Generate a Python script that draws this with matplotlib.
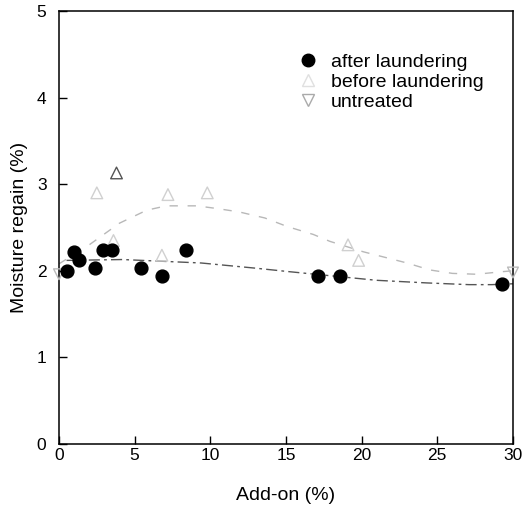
import matplotlib
matplotlib.use("Agg")
import matplotlib.pyplot as plt
from matplotlib.lines import Line2D

plt.rcParams['font.family'] = ['Liberation Sans', 'DejaVu Sans']

# after laundering (filled circles)
after_x = [0.5, 1.0, 1.3, 2.4, 2.9, 3.5, 5.4, 6.8, 8.4, 17.1, 18.6, 29.3]
after_y = [2.00, 2.22, 2.12, 2.03, 2.24, 2.24, 2.03, 1.94, 2.24, 1.94, 1.94, 1.85]

# before laundering (open triangles, mostly faded in the scan)
before_x = [2.5, 3.8, 3.6, 6.8, 7.2, 9.8, 19.1, 19.8]
before_y = [2.90, 3.13, 2.35, 2.18, 2.88, 2.90, 2.30, 2.12]

# untreated (open down triangles)
untreated_x = [0.0, 30.0]
untreated_y = [1.96, 1.98]

# fitted curve, before laundering (dashed)
fit_before_x = [0.0, 2.0, 4.0, 5.8, 7.1, 9.1, 10.4, 11.9, 13.6, 15.1, 16.8, 17.9,
                20.1, 23.0, 24.5, 26.0, 27.6, 29.3, 30.0]
fit_before_y = [2.08, 2.30, 2.55, 2.70, 2.75, 2.75, 2.72, 2.68, 2.61, 2.51, 2.42, 2.34,
                2.22, 2.09, 2.01, 1.97, 1.96, 1.99, 2.00]

# fitted curve, after laundering (dash-dot)
fit_after_x = [0.5, 4.2, 9.4, 13.0, 15.2, 21.0, 24.3, 27.1, 28.6, 30.0]
fit_after_y = [2.12, 2.13, 2.09, 2.03, 1.99, 1.89, 1.86, 1.84, 1.84, 1.85]

fig = plt.figure(figsize=(5.23, 5.07), dpi=100)
ax = fig.add_axes([0.1128, 0.1243, 0.868, 0.854])

ax.plot(fit_before_x, fit_before_y, linestyle=(0, (6, 7)), color='#b8b8b8', lw=1.0)
ax.plot(fit_after_x, fit_after_y, linestyle=(0, (8, 3, 2, 3)), color='#555555', lw=1.0)

before_edges = ['#d0d0d0', '#555555', '#d0d0d0', '#d0d0d0', '#d0d0d0', '#d0d0d0', '#d0d0d0', '#d0d0d0']
ax.scatter(before_x, before_y, marker='^', s=70, facecolors='none',
           edgecolors=before_edges, linewidths=1.0, zorder=3)
ax.scatter(untreated_x, untreated_y, marker='v', s=60, facecolors='none',
           edgecolors='#bbbbbb', linewidths=1.0, zorder=3, clip_on=False)
ax.scatter(after_x, after_y, marker='o', s=85, color='black', zorder=4)

ax.set_xlim(0, 30)
ax.set_ylim(0, 5)
ax.set_xticks([0, 5, 10, 15, 20, 25, 30])
ax.set_yticks([0, 1, 2, 3, 4, 5])
ax.tick_params(direction='in', length=6, width=1.0, labelsize=12.5,
               top=False, right=False)
ax.tick_params(axis='y', pad=9)
ax.tick_params(axis='x', pad=3)
for s in ax.spines.values():
    s.set_linewidth(1.1)

ax.set_xlabel('Add-on (%)', fontsize=14, labelpad=17)
ax.set_ylabel('Moisture regain (%)', fontsize=14, labelpad=6)

handles = [
    Line2D([], [], marker='o', color='black', linestyle='none', markersize=9),
    Line2D([], [], marker='^', markerfacecolor='none', markeredgecolor='#e0e0e0',
           linestyle='none', markersize=8),
    Line2D([], [], marker='v', markerfacecolor='none', markeredgecolor='#aaaaaa',
           linestyle='none', markersize=8),
]
labels = ['after laundering', 'before laundering', 'untreated']
ax.legend(handles, labels, loc='upper left', bbox_to_anchor=(0.505, 0.92),
          frameon=False, fontsize=14, handletextpad=0.6, labelspacing=0.12,
          handlelength=1.2, borderaxespad=0)

fig.savefig('out.png', dpi=100)
